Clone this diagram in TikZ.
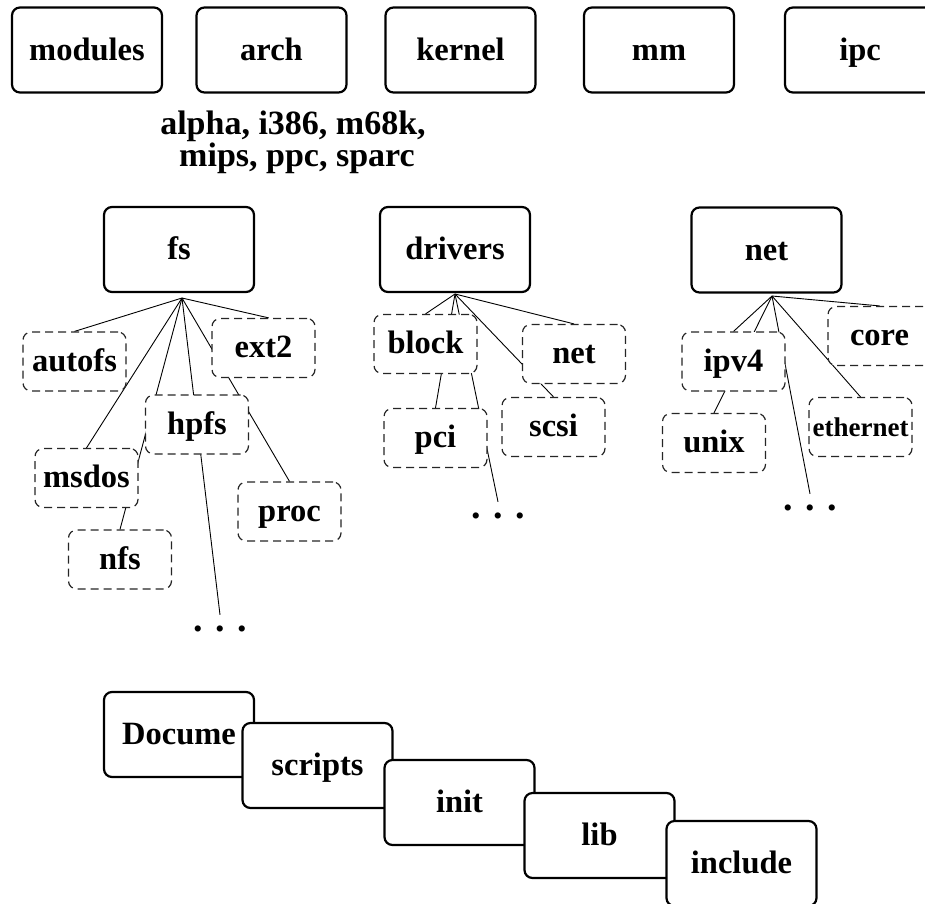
\documentclass[tikz,border=0pt]{standalone}
\usepackage{fontspec}
\setmainfont{Liberation Serif}
\usetikzlibrary{backgrounds}
\begin{document}
\begin{tikzpicture}[x={(1pt,0pt)},y={(0pt,-1pt)},
  font=\fontsize{32.5}{34}\selectfont\bfseries,
  dirbox/.style={draw=black, line width=2.2pt, rounded corners=8pt, fill=white,
    minimum width=150pt, minimum height=85pt, inner sep=0pt,
    text height=25pt, text depth=5pt},
  subbox/.style={draw=black!85, line width=1.2pt, dash pattern=on 8pt off 5pt,
    rounded corners=8pt, fill=white, minimum width=103pt, minimum height=59pt,
    inner sep=0pt, text height=24pt, text depth=5pt},
  dotsnode/.style={inner sep=0pt, anchor=base, text height=16pt, text depth=0pt,
    font=\fontsize{38}{38}\selectfont\bfseries},
  labeltext/.style={inner sep=0pt, anchor=base, font=\fontsize{34}{34}\selectfont\bfseries},
  link/.style={line width=0.9pt, draw=black}
]
\useasboundingbox (0,0) rectangle (925,903);
\clip (0,0) rectangle (925,903);

% top row
\node[dirbox] (modules) at (87,50) {modules};
\node[dirbox] (arch) at (271.5,50) {arch};
\node[dirbox] (kernel) at (460.5,50) {kernel};
\node[dirbox] (mm) at (659,50) {mm};
\node[dirbox] (ipc) at (860,50) {ipc};
\node[labeltext] (archl1) at (293,134) {alpha, i386, m68k,};
\node[labeltext] (archl2) at (297,166) {mips, ppc, sparc};

% roots
\node[dirbox] (fs) at (179,249.5) {fs};
\node[dirbox] (drivers) at (455,249.5) {drivers};
\node[dirbox] (net) at (766.5,250) {net};
\coordinate (fso) at (182,298);
\coordinate (drvo) at (455,294);
\coordinate (neto) at (772,296);

% fs children
\node[subbox] (autofs) at (74.5,361.5) {autofs};
\node[subbox] (ext2) at (263.5,348) {ext2};
\node[subbox] (hpfs) at (197,424.5) {hpfs};
\node[subbox] (msdos) at (86.5,478) {msdos};
\node[subbox] (nfs) at (120,559.5) {nfs};
\node[subbox] (proc) at (289.5,511.5) {proc};
\node[dotsnode] (fsdots) at (220,631) {.\,\,.\,\,.};

% drivers children
\node[subbox] (block) at (425.5,344) {block};
\node[subbox] (dnet) at (574,354) {net};
\node[subbox] (pci) at (435.5,438) {pci};
\node[subbox] (scsi) at (553.5,427) {scsi};
\node[dotsnode] (drvdots) at (498,518) {.\,\,.\,\,.};

% net children
\node[subbox] (ipv4) at (733.5,361.5) {ipv4};
\node[subbox] (core) at (879.5,336) {core};
\node[subbox] (unix) at (714,443) {unix};
\node[subbox, font=\fontsize{27}{28}\selectfont\bfseries] (ethernet) at (860.5,427) {ethernet};
\node[dotsnode] (netdots) at (810,510) {.\,\,.\,\,.};

% bottom stack
\node[dirbox] (docume) at (179,734.5) {Docume};
\node[dirbox] (scripts) at (317.5,765.5) {scripts};
\node[dirbox] (init) at (459.5,802.5) {init};
\node[dirbox] (lib) at (599.5,835.5) {lib};
\node[dirbox] (include) at (741.5,863.5) {include};

\begin{scope}[on background layer]
  \draw[link] (fso) -- (autofs.north);
  \draw[link] (fso) -- (msdos.north);
  \draw[link] (fso) -- (nfs.north);
  \draw[link] (fso) -- (fsdots.north);
  \draw[link] (fso) -- (proc.north);
  \draw[link] (fso) -- (ext2.80);
  \draw[link] (drvo) -- (block.north);
  \draw[link] (drvo) -- (pci.north);
  \draw[link] (drvo) -- (drvdots.north);
  \draw[link] (drvo) -- (dnet.north);
  \draw[link] (drvo) -- (scsi.north);
  \draw[link] (neto) -- (ipv4.north);
  \draw[link] (neto) -- (unix.north);
  \draw[link] (neto) -- (netdots.north);
  \draw[link] (neto) -- (ethernet.north);
  \draw[link] (neto) -- (core.north);
\end{scope}
\end{tikzpicture}
\end{document}
